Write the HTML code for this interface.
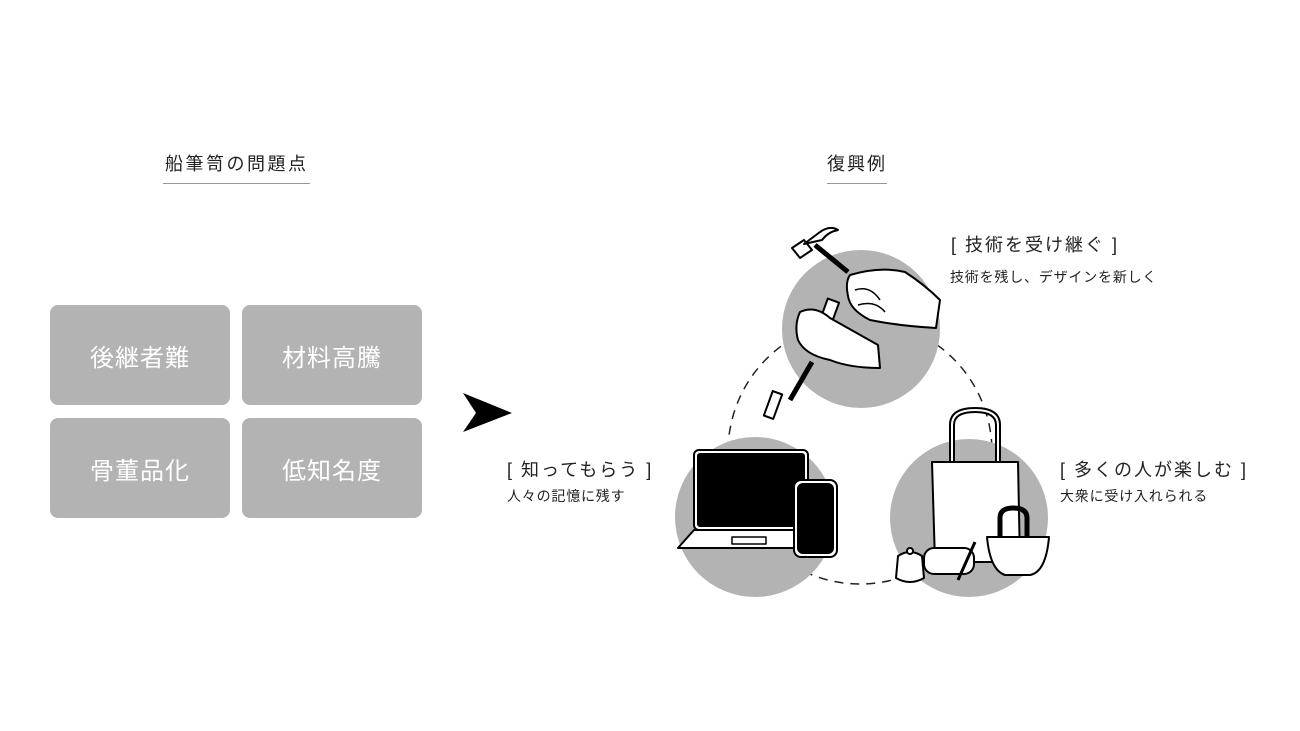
<!DOCTYPE html>
<html><head><meta charset="utf-8"><style>
body{margin:0;width:1300px;height:731px;background:#fff;overflow:hidden;font-family:"Liberation Sans","Noto Sans CJK JP",sans-serif;position:relative;color:#222}
.t{position:absolute;white-space:nowrap}
.box{position:absolute;width:180px;height:100px;background:#b3b3b3;border-radius:8px;color:#fff;font-size:24px;display:flex;align-items:center;justify-content:center;letter-spacing:1px}
</style></head><body>
<div class="t" style="left:165px;top:150px;font-size:18px;letter-spacing:2.5px">船筆笥の問題点</div>
<div style="position:absolute;left:163px;top:183px;width:147px;height:1px;background:#999"></div>
<div class="t" style="left:827px;top:150px;font-size:18px;letter-spacing:2px">復興例</div>
<div style="position:absolute;left:827px;top:183px;width:60px;height:1px;background:#999"></div>

<div class="box" style="left:50px;top:305px">後継者難</div>
<div class="box" style="left:242px;top:305px">材料高騰</div>
<div class="box" style="left:50px;top:418px">骨董品化</div>
<div class="box" style="left:242px;top:418px">低知名度</div>

<div class="t" style="left:951px;top:231px;font-size:18px;letter-spacing:2px">[ 技術を受け継ぐ ]</div>
<div class="t" style="left:950px;top:267px;font-size:14px;letter-spacing:0.8px">技術を残し、デザインを新しく</div>
<div class="t" style="left:507px;top:456px;font-size:18px;letter-spacing:2px">[ 知ってもらう ]</div>
<div class="t" style="left:507px;top:486px;font-size:14px;letter-spacing:0.8px">人々の記憶に残す</div>
<div class="t" style="left:1060px;top:456px;font-size:18px;letter-spacing:2px">[ 多くの人が楽しむ ]</div>
<div class="t" style="left:1060px;top:486px;font-size:14px;letter-spacing:0.8px">大衆に受け入れられる</div>

<svg width="1300" height="731" style="position:absolute;left:0;top:0">
<polygon points="463,393 512,413 463,432 476,413" fill="#000"/>
<circle cx="860" cy="452" r="132" fill="none" stroke="#222" stroke-width="1.5" stroke-dasharray="9,7"/>
<circle cx="861" cy="329" r="79" fill="#b3b3b3"/>
<circle cx="755" cy="517" r="80" fill="#b3b3b3"/>
<circle cx="969" cy="518" r="79" fill="#b3b3b3"/>
<g stroke="#000" stroke-width="2" stroke-linejoin="round">
<polygon points="792,248 804,240 812,250 800,258" fill="#fff"/>
<path d="M804,244 L820,232 Q830,225 838,230 Q828,232 822,240 Z" fill="#fff"/>
<line x1="815" y1="245" x2="848" y2="272" stroke-width="5"/>
<path d="M850,275 Q880,266 905,272 Q925,285 940,300 L936,328 Q900,326 870,320 Q850,310 848,296 Q845,282 850,275 Z" fill="#fff"/>
<path d="M855,290 Q870,285 880,300 M858,305 Q875,300 885,312" fill="none" stroke-width="1.5"/>
<rect x="824" y="300" width="12" height="20" transform="rotate(20 830 310)" fill="#fff"/>
<path d="M800,312 Q815,305 830,318 L878,345 L880,368 Q850,368 830,360 Q805,355 798,340 Q794,325 800,312 Z" fill="#fff"/>
<path d="M812,362 L790,400" stroke-width="5"/>
<rect x="768" y="392" width="10" height="26" transform="rotate(20 773 405)" fill="#fff"/>
<rect x="694" y="450" width="114" height="80" rx="5" fill="#fff"/>
<rect x="698" y="454" width="106" height="72" rx="2" fill="#000"/>
<path d="M694,530 L808,530 L818,548 L678,548 Z" fill="#fff"/>
<rect x="732" y="537" width="34" height="7" fill="#fff" stroke-width="1.5"/>
<rect x="794" y="480" width="43" height="77" rx="7" fill="#fff"/>
<rect x="798" y="484" width="35" height="69" rx="5" fill="#000"/>
<path d="M952,462 L952,425 Q952,410 975,410 Q998,410 998,425 L998,462" fill="none" stroke-width="6"/>
<path d="M952,462 L952,425 Q952,410 975,410 Q998,410 998,425 L998,462" fill="none" stroke="#fff" stroke-width="2"/>
<path d="M932,462 L1018,462 L1020,562 L935,562 Z" fill="#fff"/>
<path d="M1000,540 L1000,518 Q1000,508 1013,508 Q1027,508 1027,518 L1027,540" fill="none" stroke-width="5"/>
<path d="M987,537 L1049,537 Q1046,572 1030,575 L1005,575 Q990,570 987,537 Z" fill="#fff"/>
<rect x="924" y="548" width="50" height="26" rx="10" fill="#fff"/>
<path d="M898,556 Q910,548 922,556 L924,578 Q910,586 896,578 Z" fill="#fff"/>
<circle cx="910" cy="551" r="3" fill="#fff"/>
<path d="M975,542 L958,580" stroke-width="3"/>
</g>
</svg>
</body></html>
